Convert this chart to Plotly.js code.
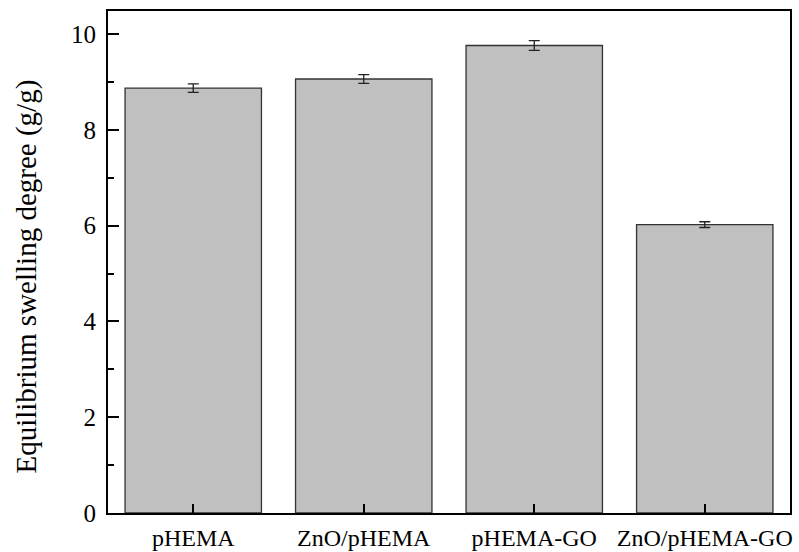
<!DOCTYPE html>
<html>
<head>
<meta charset="utf-8">
<script src="https://cdn.plot.ly/plotly-3.0.1.min.js"></script>
<style>
  html, body { margin: 0; padding: 0; background: #fff; }
  #chart { width: 799px; height: 552px; }
</style>
</head>
<body>
<div id="chart"></div>
<script>
// Equilibrium swelling degree of the four hydrogel samples
const samples = ['pHEMA', 'ZnO/pHEMA', 'pHEMA-GO', 'ZnO/pHEMA-GO'];
const swelling = [8.87, 9.06, 9.76, 6.02];
const swellingErr = [0.09, 0.09, 0.10, 0.06];
const yTicks = [0, 2, 4, 6, 8, 10];
const yTitle = 'Equilibrium swelling degree (g/g)';

const serif = 'Liberation Serif, Times New Roman, Times, serif';

const trace = {
  type: 'bar',
  x: samples,
  y: swelling,
  width: 0.8,
  marker: { color: '#c0c0c0', line: { color: '#333', width: 1.3 } },
  error_y: {
    type: 'data',
    array: swellingErr,
    visible: true,
    color: '#222',
    thickness: 1.3,
    width: 5.5
  },
  hoverinfo: 'x+y'
};

const layout = {
  width: 799,
  height: 552,
  margin: { l: 108, r: 9, t: 11, b: 39 },
  paper_bgcolor: '#fff',
  plot_bgcolor: '#fff',
  showlegend: false,
  font: { family: serif, color: '#000', size: 24 },
  bargap: 0.2,
  xaxis: {
    type: 'category',
    range: [-0.5, 3.5],
    showline: true,
    linecolor: '#000',
    linewidth: 2,
    mirror: true,
    ticks: 'inside',
    ticklen: 9,
    tickwidth: 2,
    tickcolor: '#000',
    showgrid: false,
    zeroline: false,
    tickfont: { family: serif, size: 24, color: '#000' },
    ticklabelstandoff: 2
  },
  yaxis: {
    range: [0, 10.48],
    tickvals: yTicks,
    ticktext: yTicks.map(String),
    showline: true,
    linecolor: '#000',
    linewidth: 2,
    mirror: true,
    ticks: 'inside',
    ticklen: 11,
    tickwidth: 2,
    tickcolor: '#000',
    minor: { dtick: 1, tick0: 0, ticks: 'inside', ticklen: 6, tickwidth: 2, tickcolor: '#000', showgrid: false },
    showgrid: false,
    zeroline: false,
    tickfont: { family: serif, size: 25, color: '#000' },
    ticklabelstandoff: 5
  },
  // axis title placed as a rotated annotation so it can sit slightly below the plot's centre
  annotations: [{
    text: yTitle,
    textangle: -90,
    xref: 'paper', yref: 'paper',
    x: -0.1188, y: 0.471,
    xanchor: 'center', yanchor: 'middle',
    showarrow: false,
    font: { family: serif, size: 29, color: '#000' }
  }]
};

Plotly.newPlot('chart', [trace], layout, { displayModeBar: false, staticPlot: true });
</script>
</body>
</html>
